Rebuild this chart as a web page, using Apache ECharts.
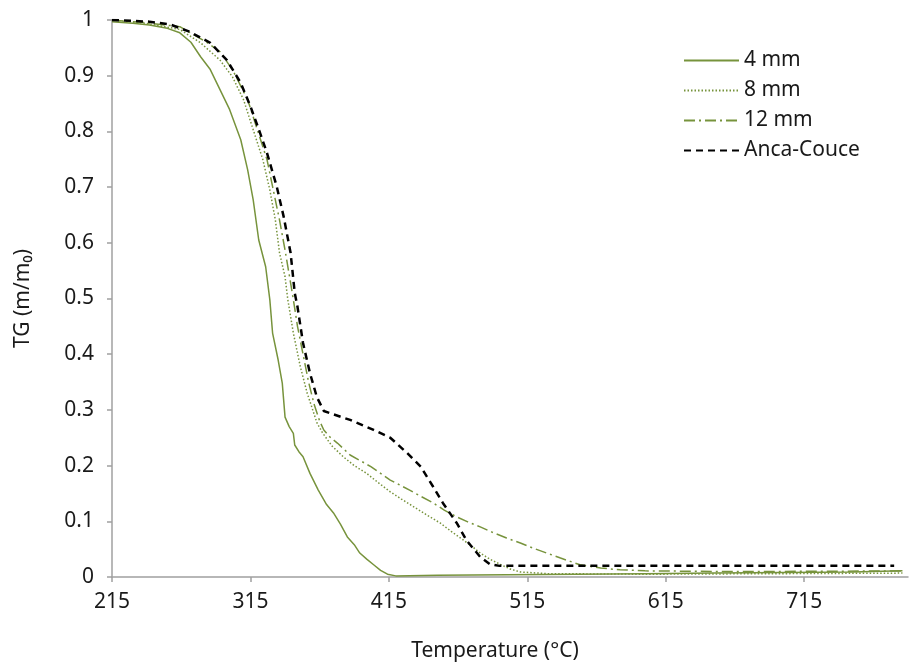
<!DOCTYPE html>
<html>
<head>
<meta charset="utf-8">
<script src="https://cdn.jsdelivr.net/npm/echarts@6/dist/echarts.min.js"></script>
<style>html,body{margin:0;padding:0;background:#fff}#c{width:910px;height:670px}</style>
</head>
<body>
<div id="c"></div>
<script>
var X_ORIGIN = 215;
var xTickLabels = [215, 315, 415, 515, 615, 715];

var temp4 = [215, 230, 242, 255, 264, 272, 279, 286, 293, 300, 308, 313, 317, 321, 326, 329, 331, 335, 338, 340, 343, 346, 347, 350, 353, 358, 364, 370, 375, 380, 385, 390, 394, 399, 404, 409, 414, 420, 450, 500, 550, 600, 650, 700, 750, 786];
var tg4 = [0.997, 0.994, 0.991, 0.985, 0.977, 0.960, 0.934, 0.911, 0.875, 0.839, 0.785, 0.731, 0.677, 0.605, 0.557, 0.498, 0.438, 0.390, 0.348, 0.287, 0.270, 0.258, 0.237, 0.225, 0.216, 0.186, 0.156, 0.130, 0.115, 0.095, 0.072, 0.058, 0.043, 0.032, 0.022, 0.012, 0.005, 0.002, 0.003, 0.004, 0.005, 0.006, 0.007, 0.008, 0.009, 0.011];

var temp8 = [215, 240, 264, 279, 293, 302, 310, 317, 324, 329, 333, 336, 340, 342, 346, 351, 356, 360, 363, 367, 374, 382, 390, 399, 407, 416, 424, 433, 442, 452, 460, 469, 475, 481, 488, 496, 503, 510, 530, 600, 700, 786];
var tg8 = [1.0, 0.994, 0.983, 0.959, 0.928, 0.898, 0.857, 0.803, 0.749, 0.695, 0.641, 0.582, 0.539, 0.498, 0.438, 0.378, 0.330, 0.300, 0.277, 0.259, 0.235, 0.216, 0.200, 0.186, 0.170, 0.153, 0.140, 0.126, 0.112, 0.097, 0.082, 0.066, 0.055, 0.043, 0.032, 0.022, 0.014, 0.009, 0.006, 0.005, 0.006, 0.007];

var temp12 = [215, 240, 264, 284, 293, 302, 313, 320, 327, 331, 336, 340, 344, 346, 349, 353, 357, 361, 365, 368, 373, 378, 387, 395, 402, 409, 416, 423, 430, 438, 447, 455, 464, 472, 481, 490, 500, 510, 519, 529, 539, 546, 553, 568, 582, 600, 650, 700, 786];
var tg12 = [1.0, 0.995, 0.988, 0.959, 0.943, 0.911, 0.857, 0.803, 0.749, 0.701, 0.641, 0.587, 0.528, 0.498, 0.450, 0.400, 0.350, 0.310, 0.280, 0.264, 0.250, 0.240, 0.219, 0.208, 0.198, 0.186, 0.174, 0.165, 0.156, 0.145, 0.133, 0.120, 0.108, 0.099, 0.090, 0.080, 0.070, 0.061, 0.052, 0.043, 0.034, 0.028, 0.022, 0.016, 0.013, 0.011, 0.010, 0.010, 0.011];

var tempAC = [215, 242, 257, 271, 286, 298, 308, 315, 322, 327, 334, 339, 344, 347, 349, 353, 358, 363, 368, 375, 387, 404, 416, 428, 438, 447, 454, 464, 471, 481, 488, 495, 600, 700, 780];
var tgAC = [1.0, 0.997, 0.992, 0.979, 0.959, 0.928, 0.887, 0.845, 0.797, 0.761, 0.701, 0.647, 0.582, 0.510, 0.485, 0.420, 0.366, 0.323, 0.298, 0.292, 0.282, 0.264, 0.250, 0.223, 0.198, 0.162, 0.133, 0.097, 0.066, 0.036, 0.023, 0.020, 0.020, 0.020, 0.020];

var seriesNames = ['4 mm', '8 mm', '12 mm', 'Anca-Couce'];

function pairs(t, v) {
  return t.map(function (x, i) { return [x - X_ORIGIN, v[i]]; });
}

var FONT = 'Noto Sans';
var FS = 21;
var GREEN = '#77933C';
var AXIS = '#a0a0a0';
var TXT = '#1a1a1a';
var tickVals = xTickLabels.map(function (t) { return t - X_ORIGIN; });

var chart = echarts.init(document.getElementById('c'), null, { renderer: 'canvas' });
chart.setOption({
  animation: false,
  backgroundColor: '#ffffff',
  textStyle: { fontFamily: FONT },
  grid: { left: 112, right: 2, top: 20, bottom: 93, containLabel: false },
  legend: {
    orient: 'vertical',
    left: 683,
    top: 50,
    padding: 0,
    itemWidth: 55,
    itemHeight: 14,
    itemGap: 9,
    data: seriesNames,
    itemStyle: { opacity: 0 },
    textStyle: { fontFamily: FONT, fontSize: FS, color: TXT }
  },
  xAxis: {
    type: 'value',
    min: 0,
    max: 575,
    interval: 100,
    name: 'Temperature (°C)',
    nameLocation: 'middle',
    nameGap: 64,
    nameTextStyle: { fontFamily: FONT, fontSize: FS, color: TXT, padding: [0, 30, 0, 0] },
    axisLine: { show: true, lineStyle: { color: AXIS, width: 1.5 } },
    axisTick: { show: true, length: 5, lineStyle: { color: AXIS, width: 1.5 }, customValues: tickVals },
    axisLabel: {
      customValues: tickVals,
      margin: 15,
      fontFamily: FONT, fontSize: FS, color: TXT,
      formatter: function (v) { return String(Math.round(v + X_ORIGIN)); }
    },
    splitLine: { show: false }
  },
  yAxis: {
    type: 'value',
    min: 0,
    max: 1,
    interval: 0.1,
    name: 'TG (m/m₀)',
    nameLocation: 'middle',
    nameGap: 78,
    nameTextStyle: { fontFamily: FONT, fontSize: FS, color: TXT },
    axisLine: { show: true, lineStyle: { color: AXIS, width: 1.5 } },
    axisTick: { show: true, length: 5, lineStyle: { color: AXIS, width: 1.5 } },
    axisLabel: {
      margin: 18,
      fontFamily: FONT, fontSize: FS, color: TXT,
      formatter: function (v) { return String(Math.round(v * 10) / 10); }
    },
    splitLine: { show: false }
  },
  series: [
    { name: seriesNames[0], type: 'line', symbol: 'none', smooth: false,
      data: pairs(temp4, tg4), itemStyle: { color: GREEN },
      lineStyle: { color: GREEN, width: 1.5, type: 'solid' } },
    { name: seriesNames[1], type: 'line', symbol: 'none',
      data: pairs(temp8, tg8), itemStyle: { color: GREEN },
      lineStyle: { color: GREEN, width: 1.5, type: [1.5, 2] } },
    { name: seriesNames[2], type: 'line', symbol: 'none',
      data: pairs(temp12, tg12), itemStyle: { color: GREEN },
      lineStyle: { color: GREEN, width: 1.5, type: [11, 4, 2, 4] } },
    { name: seriesNames[3], type: 'line', symbol: 'none',
      data: pairs(tempAC, tgAC), itemStyle: { color: '#000000' },
      lineStyle: { color: '#000000', width: 2.5, type: [7, 5] } }
  ]
});
</script>
</body>
</html>
